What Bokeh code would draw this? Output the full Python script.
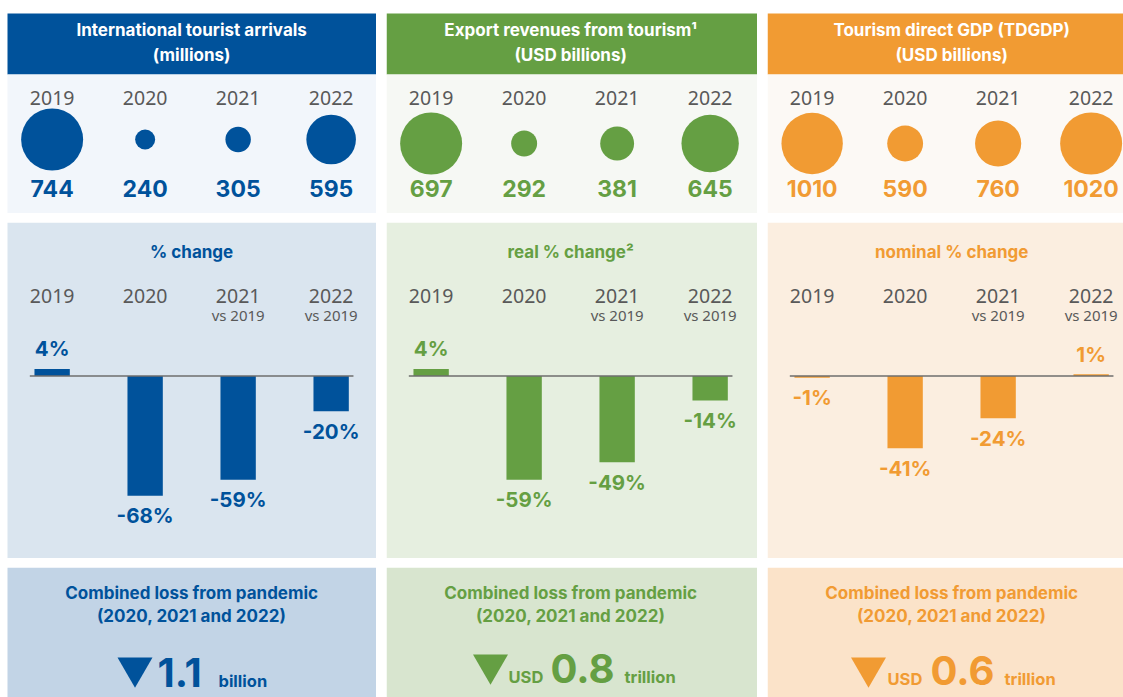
from bokeh.plotting import figure
from bokeh.models import Range1d, ColumnDataSource, LinearInterpolator
from bokeh.layouts import row, column
from bokeh.transform import transform
from bokeh.core.properties import value
from bokeh.embed import file_html
from bokeh.resources import INLINE

# ---------------- data ----------------
years = ["2019", "2020", "2021", "2022"]
year_notes = ["", "", "vs 2019", "vs 2019"]

arrivals = [744, 240, 305, 595]          # millions
export_revenues = [697, 292, 381, 645]   # USD billions
tdgdp = [1010, 590, 760, 1020]           # USD billions

arrivals_change = [4, -68, -59, -20]
export_real_change = [4, -59, -49, -14]
tdgdp_nominal_change = [-1, -41, -24, 1]

header_line1 = ["International tourist arrivals", "Export revenues from tourism\u00b9", "Tourism direct GDP (TDGDP)"]
header_line2 = ["(millions)", "(USD billions)", "(USD billions)"]
change_titles = ["% change", "real % change\u00b2", "nominal % change"]
loss_title = ["Combined loss from pandemic", "(2020, 2021 and 2022)"]
loss_prefix = ["", "USD", "USD"]
loss_value = ["1.1", "0.8", "0.6"]
loss_unit = ["billion", "trillion", "trillion"]

levels = [arrivals, export_revenues, tdgdp]
changes = [arrivals_change, export_real_change, tdgdp_nominal_change]

# ---------------- styles ----------------
themes = [
    dict(main="#00529b", light="#f2f6fb", mid="#dae5ef", bottom="#c2d4e6", cy=139,
         tri=(127.5, 100), pre=None, num=150, unit=211, base=120),
    dict(main="#659f43", light="#f6f8f4", mid="#e6efe0", bottom="#d8e5cf", cy=143,
         tri=(104, 97), pre=122, num=164, unit=238, base=116),
    dict(main="#f19b33", light="#fcf9f5", mid="#fbeee0", bottom="#fbe3c9", cy=143,
         tri=(101, 100), pre=120, num=163, unit=237, base=118),
]
lead = [7, 0, 0]           # white strip left of the panel (px)
fig_w = [376, 371, 356]    # figure widths (px)
STEP = 93.0                # px per category
X0 = -0.48                 # panel left edge in category units
GRAY = "#595959"
BOLD = value("Inter")
REG = value("Noto Sans")
HA, HB, HC = 213, 336, 130


def base_fig(w, h, ld, yr):
    start = X0 - ld / STEP
    p = figure(width=w, height=h, x_range=Range1d(start, start + w / STEP), y_range=yr,
               output_backend="svg", toolbar_location=None, min_border=0,
               x_axis_location=None, y_axis_location=None)
    p.xgrid.grid_line_color = None
    p.ygrid.grid_line_color = None
    p.outline_line_color = None
    p.background_fill_color = "white"
    p.border_fill_color = "white"
    return p


cols = []
for i in range(3):
    th = themes[i]
    w = fig_w[i]
    ld = lead[i]
    right = X0 + (w - ld) / STEP
    xs = list(range(len(years)))
    xmid = (len(years) - 1) / 2

    # ----- header + bubbles -----
    pA = base_fig(w, HA, ld, Range1d(HA, 0))
    pA.quad(left=X0, right=right, top=13, bottom=74, fill_color=th["main"], line_color=None)
    pA.quad(left=X0, right=right, top=74, bottom=HA, fill_color=th["light"], line_color=None)
    pA.text(x=[xmid, xmid], y=[29, 54], text=[header_line1[i], header_line2[i]],
            text_font=BOLD, text_font_style="bold", text_font_size="17px",
            text_color="white", text_align="center", text_baseline="middle")
    pA.text(x=xs, y=97, text=years, text_font=REG, text_font_size="19.5px",
            text_color=GRAY, text_align="center", text_baseline="middle")
    vals = levels[i]
    srcA = ColumnDataSource(dict(x=xs, v=vals, label=[str(v) for v in vals]))
    pA.scatter(x="x", y=th["cy"], source=srcA,
               size=transform("v", LinearInterpolator(x=[0, max(vals)], y=[0, 62])),
               fill_color=th["main"], line_color=None)
    pA.text(x="x", y=188, text="label", source=srcA, text_font=BOLD, text_font_style="bold",
            text_font_size="23px", text_color=th["main"], text_align="center", text_baseline="middle")

    # ----- bars -----
    pB = base_fig(w, HB, ld, Range1d(-103.7, 87.2))
    pB.extra_y_ranges = {"px": Range1d(HB, 0)}
    pB.quad(left=X0, right=right, top=0, bottom=HB, y_range_name="px",
            fill_color=th["mid"], line_color=None)
    pB.text(x=[xmid], y=[29], text=[change_titles[i]], y_range_name="px",
            text_font=BOLD, text_font_style="bold", text_font_size="17px",
            text_color=th["main"], text_align="center", text_baseline="middle")
    pB.text(x=xs, y=73, text=years, y_range_name="px", text_font=REG, text_font_size="19.5px",
            text_color=GRAY, text_align="center", text_baseline="middle")
    pB.text(x=xs, y=92, text=year_notes, y_range_name="px", text_font=REG, text_font_size="15px",
            text_color=GRAY, text_align="center", text_baseline="middle")
    ch = changes[i]
    srcB = ColumnDataSource(dict(x=xs, pct=ch, label=[f"{v}%" for v in ch],
                                 off=[-20 if v >= 0 else 20 for v in ch]))
    pB.vbar(x="x", top="pct", bottom=0, width=0.38, source=srcB,
            fill_color=th["main"], line_color=None)
    pB.segment(x0=[-0.24], y0=[0], x1=[len(years) - 1 + 0.24], y1=[0],
               line_color="#6e6e6e", line_width=1.6)
    pB.text(x="x", y="pct", text="label", y_offset="off", source=srcB,
            text_font=BOLD, text_font_style="bold", text_font_size="20.5px",
            text_color=th["main"], text_align="center", text_baseline="middle")

    # ----- combined loss -----
    pC = base_fig(w, HC, ld, Range1d(HC, 0))
    pC.quad(left=X0, right=right, top=0, bottom=HC, fill_color=th["bottom"], line_color=None)
    pC.text(x=[xmid, xmid], y=[25, 48], text=loss_title,
            text_font=BOLD, text_font_style="bold", text_font_size="17px",
            text_color=th["main"], text_align="center", text_baseline="middle")
    tx, ty = th["tri"]
    pC.scatter(x=[X0 + tx / STEP], y=[ty], marker="inverted_triangle", size=35,
               fill_color=th["main"], line_color=None)
    b = th["base"]
    if th["pre"] is not None:
        pC.text(x=[X0 + th["pre"] / STEP], y=[b - 0.365 * 16.5], text=[loss_prefix[i]],
                text_font=BOLD, text_font_style="bold", text_font_size="16.5px",
                text_color=th["main"], text_align="left", text_baseline="middle")
    pC.text(x=[X0 + th["num"] / STEP], y=[b - 0.365 * 40], text=[loss_value[i]],
            text_font=BOLD, text_font_style="bold", text_font_size="40px",
            text_color=th["main"], text_align="left", text_baseline="middle")
    pC.text(x=[X0 + th["unit"] / STEP], y=[b - 0.365 * 16.5], text=[loss_unit[i]],
            text_font=BOLD, text_font_style="bold", text_font_size="16.5px",
            text_color=th["main"], text_align="left", text_baseline="middle")

    cols.append(column(pA, pB, pC, spacing=9))

layout = row(*cols, spacing=10)
open("out.html", "w").write(file_html(layout, INLINE))
